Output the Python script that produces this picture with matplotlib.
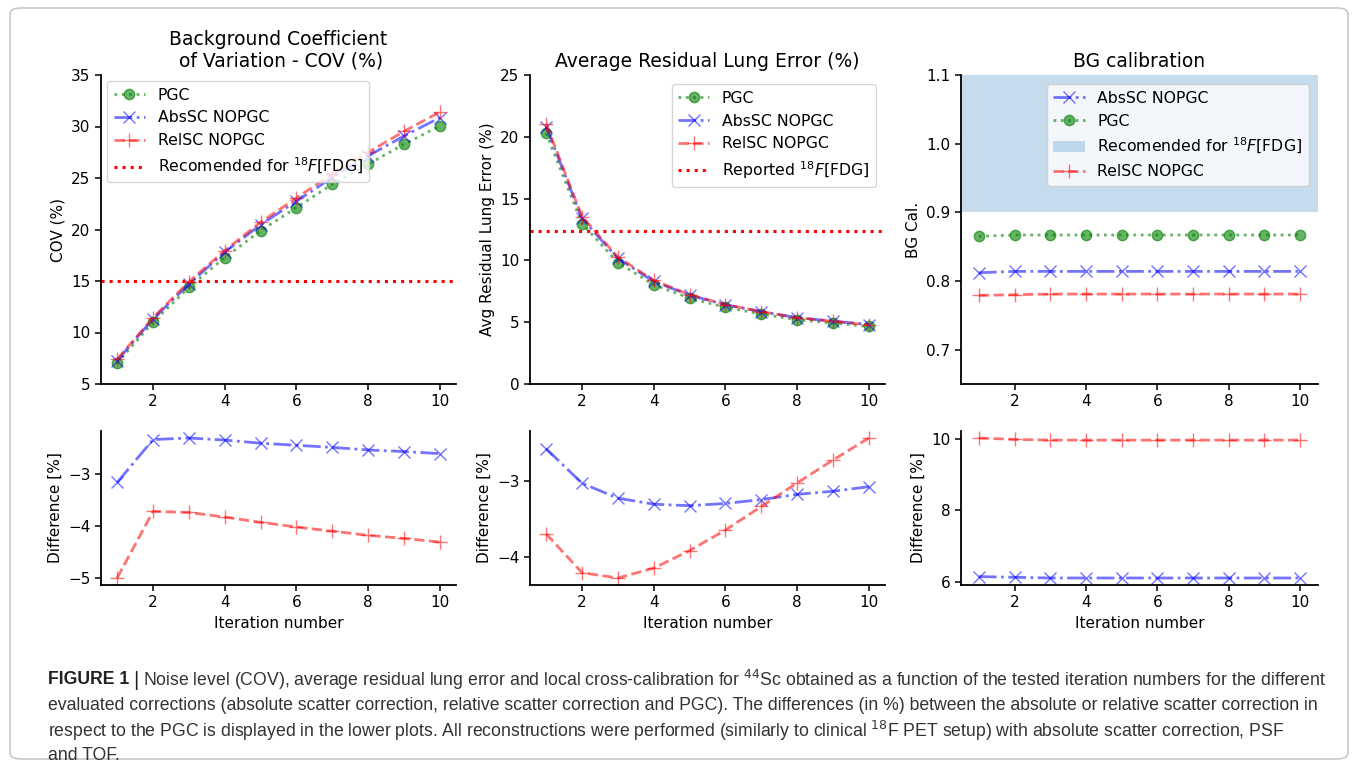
import matplotlib
matplotlib.use("Agg")
import matplotlib.pyplot as plt
from matplotlib.patches import FancyBboxPatch
from matplotlib import font_manager

# ---------------- data ----------------
iterations = [1, 2, 3, 4, 5, 6, 7, 8, 9, 10]

cov_pgc = [7.03, 11.0, 14.37, 17.28, 19.87, 22.13, 24.4, 26.34, 28.28, 30.05]
cov_abs = [7.28, 11.32, 14.70, 17.80, 20.46, 22.75, 25.05, 27.14, 29.08, 30.86]
cov_rel = [7.40, 11.43, 14.93, 17.95, 20.70, 23.06, 25.40, 27.49, 29.53, 31.40]
cov_ref = 15

lung_pgc = [20.29, 12.98, 9.83, 8.03, 6.95, 6.20, 5.66, 5.20, 4.93, 4.66]
lung_abs = [20.83, 13.39, 10.16, 8.30, 7.19, 6.41, 5.85, 5.37, 5.09, 4.81]
lung_rel = [21.05, 13.55, 10.27, 8.38, 7.23, 6.43, 5.86, 5.36, 5.07, 4.78]
lung_ref = 12.4

bg_pgc = [0.865, 0.867, 0.867, 0.867, 0.867, 0.867, 0.867, 0.867, 0.867, 0.867]
bg_abs = [0.812, 0.814, 0.814, 0.814, 0.814, 0.814, 0.814, 0.814, 0.814, 0.814]
bg_rel = [0.779, 0.780, 0.781, 0.781, 0.781, 0.781, 0.781, 0.781, 0.781, 0.781]
bg_band = (0.9, 1.1)

cov_diff_abs = [-3.165, -2.34, -2.31, -2.35, -2.41, -2.45, -2.49, -2.54, -2.57, -2.61]
cov_diff_rel = [-5.0, -3.72, -3.74, -3.83, -3.93, -4.02, -4.10, -4.18, -4.24, -4.31]

lung_diff_abs = [-2.58, -3.035, -3.23, -3.31, -3.33, -3.30, -3.25, -3.18, -3.14, -3.08]
lung_diff_rel = [-3.70, -4.21, -4.28, -4.15, -3.92, -3.65, -3.34, -3.03, -2.73, -2.44]

bg_diff_abs = [6.14, 6.12, 6.10, 6.10, 6.10, 6.10, 6.10, 6.10, 6.10, 6.10]
bg_diff_rel = [10.03, 9.99, 9.97, 9.97, 9.97, 9.97, 9.97, 9.97, 9.97, 9.97]

x_ticks = [2, 4, 6, 8, 10]
lbl_pgc = "PGC"
lbl_abs = "AbsSC NOPGC"
lbl_rel = "RelSC NOPGC"

caption_lines = [
    "Noise level (COV), average residual lung error and local cross-calibration for $^{44}$Sc obtained as a function of the tested iteration numbers for the different",
    "evaluated corrections (absolute scatter correction, relative scatter correction and PGC). The differences (in %) between the absolute or relative scatter correction in",
    "respect to the PGC is displayed in the lower plots. All reconstructions were performed (similarly to clinical $^{18}$F PET setup) with absolute scatter correction, PSF",
    "and TOF.",
]

# ---------------- style ----------------
plt.rcParams['font.family'] = ['DejaVu Sans']
plt.rcParams['xtick.labelsize'] = 11
plt.rcParams['ytick.labelsize'] = 11
plt.rcParams['axes.labelsize'] = 11
plt.rcParams['axes.linewidth'] = 1.3

W, H = 1358, 767
fig = plt.figure(figsize=(W / 100, H / 100), dpi=100)

def rect(l, t, r, b):
    return [l / W, 1 - b / H, (r - l) / W, (b - t) / H]

kw_pgc = dict(color='green', linestyle=':', marker='o', markersize=7.5, alpha=0.6, lw=2)
kw_abs = dict(color='blue', linestyle='-.', marker='x', markersize=8.5, alpha=0.55, lw=2)
kw_rel = dict(color='red', linestyle='--', marker='+', markersize=9.5, alpha=0.55, lw=2)

def style(ax):
    ax.spines['top'].set_visible(False)
    ax.spines['right'].set_visible(False)
    ax.set_xticks(x_ticks)
    ax.set_xlim(0.55, 10.45)
    ax.tick_params(length=4, width=1.1)

lefts = [(101, 456), (530, 885), (961, 1318)]
top_tb = (75, 384)
bot_tb = (431, 585)

ax1 = fig.add_axes(rect(lefts[0][0], top_tb[0], lefts[0][1], top_tb[1]))
ax2 = fig.add_axes(rect(lefts[1][0], top_tb[0], lefts[1][1], top_tb[1]))
ax3 = fig.add_axes(rect(lefts[2][0], top_tb[0], lefts[2][1], top_tb[1]))
bx1 = fig.add_axes(rect(lefts[0][0], bot_tb[0], lefts[0][1], bot_tb[1]))
bx2 = fig.add_axes(rect(lefts[1][0], bot_tb[0], lefts[1][1], bot_tb[1]))
bx3 = fig.add_axes(rect(lefts[2][0], bot_tb[0], lefts[2][1], bot_tb[1]))

title_size = 13.5

# panel 1
ax1.plot(iterations, cov_pgc, label=lbl_pgc, **kw_pgc)
ax1.plot(iterations, cov_abs, label=lbl_abs, **kw_abs)
ax1.plot(iterations, cov_rel, label=lbl_rel, **kw_rel)
ax1.axhline(cov_ref, color='red', linestyle=':', lw=2.2, label=r'Recomended for $^{18}F$[FDG]')
ax1.set_ylim(5, 35)
ax1.set_yticks([5, 10, 15, 20, 25, 30, 35])
ax1.set_ylabel("COV (%)")
ax1.set_title("Background Coefficient\n of Variation - COV (%)", fontsize=title_size)
ax1.legend(loc='upper left', fontsize=11.3, borderaxespad=0.4)
style(ax1)

# panel 2
ax2.plot(iterations, lung_pgc, label=lbl_pgc, **kw_pgc)
ax2.plot(iterations, lung_abs, label=lbl_abs, **kw_abs)
ax2.plot(iterations, lung_rel, label=lbl_rel, **kw_rel)
ax2.axhline(lung_ref, color='red', linestyle=':', lw=2.2, label=r'Reported $^{18}F$[FDG]')
ax2.set_ylim(0, 25)
ax2.set_yticks([0, 5, 10, 15, 20, 25])
ax2.set_ylabel("Avg Residual Lung Error (%)")
ax2.set_title("Average Residual Lung Error (%)", fontsize=title_size)
ax2.legend(loc='upper right', fontsize=11.3, borderaxespad=0.6)
style(ax2)

# panel 3
ax3.plot(iterations, bg_abs, label=lbl_abs, **kw_abs)
ax3.plot(iterations, bg_pgc, label=lbl_pgc, **kw_pgc)
ax3.axhspan(bg_band[0], bg_band[1], color='#1f77b4', alpha=0.25, lw=0,
            label=r'Recomended for $^{18}F$[FDG]')
ax3.plot(iterations, bg_rel, label=lbl_rel, **kw_rel)
ax3.set_ylim(0.65, 1.1)
ax3.set_yticks([0.7, 0.8, 0.9, 1.0, 1.1])
ax3.set_ylabel("BG Cal.")
ax3.set_title("BG calibration", fontsize=title_size)
ax3.legend(loc='upper right', fontsize=11.3, borderaxespad=0.6)
style(ax3)
ax3.set_xlim(0.5, 10.5)

# bottom panels
bx1.plot(iterations, cov_diff_abs, **kw_abs)
bx1.plot(iterations, cov_diff_rel, **kw_rel)
bx1.set_yticks([-5, -4, -3])
bx2.plot(iterations, lung_diff_abs, **kw_abs)
bx2.plot(iterations, lung_diff_rel, **kw_rel)
bx2.set_yticks([-4, -3])
bx3.plot(iterations, bg_diff_abs, **kw_abs)
bx3.plot(iterations, bg_diff_rel, **kw_rel)
bx3.set_yticks([6, 8, 10])
for b in (bx1, bx2, bx3):
    b.set_ylabel("Difference [%]")
    b.set_xlabel("Iteration number")
    style(b)
bx3.set_xlim(0.5, 10.5)

# border
fig.patches.append(FancyBboxPatch((10 / W, 8 / H), 1 - 20 / W, 1 - 16 / H,
                                  boxstyle="round,pad=0,rounding_size=0.008",
                                  transform=fig.transFigure, fill=False,
                                  ec='#c8c8c8', lw=1.2))

# caption
names = {f.name for f in font_manager.fontManager.ttflist}
cap_family = 'Liberation Sans Narrow' if 'Liberation Sans Narrow' in names else 'Liberation Sans'
cap_size = 14.5 if cap_family == 'Liberation Sans Narrow' else 12.7
renderer = fig.canvas.get_renderer()
x0 = 48 / W
y_lines = [680, 706, 731, 756]
t = fig.text(x0, 1 - y_lines[0] / H, "FIGURE 1", fontsize=cap_size, family=cap_family,
             weight='bold', va='center', color='#222222')
bb = t.get_window_extent(renderer)
t2 = fig.text(bb.x1 / W + 4 / W, 1 - y_lines[0] / H, "|", fontsize=cap_size + 2, family=cap_family,
              va='center', color='#222222')
bb2 = t2.get_window_extent(renderer)
fig.text(bb2.x1 / W + 4 / W, 1 - y_lines[0] / H, caption_lines[0], fontsize=cap_size,
         family=cap_family, va='center', color='#333333')
for yl, line in zip(y_lines[1:], caption_lines[1:]):
    fig.text(x0, 1 - yl / H, line, fontsize=cap_size, family=cap_family, va='center', color='#333333')

fig.savefig("out.png", dpi=100)
